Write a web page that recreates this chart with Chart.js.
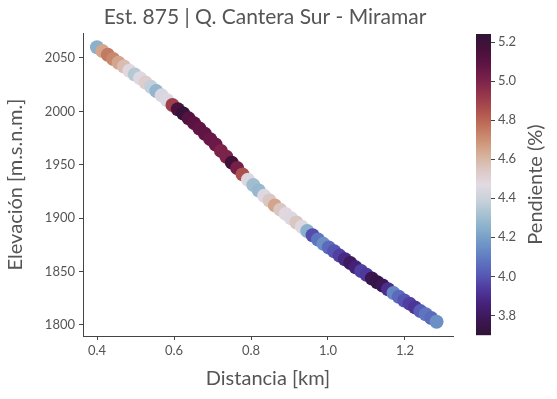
<!DOCTYPE html>
<html>
<head>
<meta charset="utf-8">
<script src="https://cdn.jsdelivr.net/npm/chart.js@4"></script>
<style>
html,body{margin:0;padding:0;background:#fff;}
#wrap{width:557px;height:399px;position:relative;}
</style>
</head>
<body>
<div id="wrap"><canvas id="c" width="557" height="399"></canvas></div>
<script>
// ---- data ----
const titleText = "Est. 875 | Q. Cantera Sur - Miramar";
const xLabel = "Distancia [km]";
const yLabel = "Elevación [m.s.n.m.]";
const cbarLabel = "Pendiente (%)";

const distanceKm = [0.400,0.414,0.428,0.442,0.456,0.470,0.484,0.498,0.512,0.526,0.540,0.554,0.568,0.582,0.596,0.610,0.624,0.638,0.652,0.666,0.680,0.694,0.708,0.722,0.736,0.750,0.764,0.778,0.792,0.806,0.820,0.834,0.848,0.862,0.876,0.890,0.904,0.918,0.932,0.946,0.960,0.974,0.988,1.002,1.016,1.030,1.044,1.058,1.072,1.086,1.100,1.114,1.128,1.142,1.156,1.170,1.184,1.198,1.212,1.226,1.240,1.254,1.268,1.282];
const elevation = [2060,2056.5,2053,2049,2045.5,2042,2038,2034.5,2031,2027,2023,2019,2015,2010.5,2006,2002,1998,1993.5,1989,1984,1979,1974,1969,1963,1957.5,1952,1947,1941,1936,1931,1926,1921,1916.5,1912,1908,1904,1900,1896,1892,1888,1884,1880,1876,1872.5,1869,1865,1861.5,1858,1854,1850.5,1847,1843.5,1840,1837,1833.5,1830,1826.5,1823,1820,1816.5,1813,1810,1806.5,1803];
const slopePct = [4.25,4.65,4.75,4.72,4.65,4.58,4.48,4.35,4.46,4.52,4.38,4.27,4.44,4.45,4.90,5.15,5.22,5.12,5.10,5.08,5.08,5.06,5.05,5.00,5.00,5.18,5.02,4.85,4.45,4.30,4.28,4.45,4.55,4.65,4.55,4.48,4.45,4.55,4.45,4.25,3.98,4.08,4.15,4.05,4.00,3.95,3.88,3.80,3.85,3.95,3.93,3.76,3.74,3.78,3.90,4.12,4.05,4.00,3.95,3.92,4.02,4.08,4.05,4.15];

const xTicks = [0.4,0.6,0.8,1.0,1.2];
const yTicks = [1800,1850,1900,1950,2000,2050];
const cbarTicks = [3.8,4.0,4.2,4.4,4.6,4.8,5.0,5.2];
const cbarMin = 3.70, cbarMax = 5.24;

// ---- colormap (twilight_shifted approximation) ----
const cmapStops = [
  [0.00,[48,20,55]],[0.05,[59,23,84]],[0.10,[69,33,120]],[0.15,[78,56,155]],
  [0.20,[87,89,181]],[0.25,[94,120,193]],[0.30,[110,148,199]],[0.35,[134,173,202]],
  [0.40,[166,194,209]],[0.45,[201,210,219]],[0.50,[226,217,226]],[0.55,[219,200,195]],
  [0.60,[214,175,152]],[0.65,[203,144,115]],[0.70,[191,110,89]],[0.75,[171,79,77]],
  [0.80,[148,53,75]],[0.85,[121,33,74]],[0.90,[94,20,69]],[0.95,[70,17,58]],[1.00,[48,20,55]]
];
function cmap(t){
  t=Math.max(0,Math.min(1,t));
  for(let i=1;i<cmapStops.length;i++){
    if(t<=cmapStops[i][0]){
      const a=cmapStops[i-1],b=cmapStops[i];
      const f=(t-a[0])/(b[0]-a[0]);
      const c=a[1].map((v,k)=>Math.round(v+(b[1][k]-v)*f));
      return `rgb(${c[0]},${c[1]},${c[2]})`;
    }
  }
  return 'rgb(48,20,55)';
}
const pointColors = slopePct.map(v=>cmap((v-cbarMin)/(cbarMax-cbarMin)));

const FONT = "Lato, 'Open Sans', sans-serif";
const TXT = '#555555';
const AX = '#444';

const area = {left:83,right:453,top:33,bottom:336};
const cbar = {x:476,w:15,top:34,bottom:335};
const padL = 4, padB = 8;

const extras = {
  id:'extras',
  afterDraw(chart){
    const ctx=chart.ctx;
    ctx.save();
    // title
    ctx.fillStyle=TXT;
    ctx.font=`21px ${FONT}`;
    ctx.textAlign='center';ctx.textBaseline='middle';
    ctx.fillText(titleText,265,17);
    // colorbar gradient
    const h=cbar.bottom-cbar.top;
    for(let i=0;i<h;i++){
      const t=1-(i+0.5)/h;
      ctx.fillStyle=cmap(t);
      ctx.fillRect(cbar.x,cbar.top+i,cbar.w,1.2);
    }
    // colorbar ticks
    ctx.strokeStyle=AX;ctx.lineWidth=1;
    ctx.fillStyle=TXT;ctx.font=`13px ${FONT}`;
    ctx.textAlign='left';ctx.textBaseline='middle';
    cbarTicks.forEach(v=>{
      const y=cbar.bottom-(v-cbarMin)/(cbarMax-cbarMin)*h;
      ctx.beginPath();ctx.moveTo(cbar.x+cbar.w,Math.round(y)+0.5);ctx.lineTo(cbar.x+cbar.w+4,Math.round(y)+0.5);ctx.stroke();
      ctx.fillText(v.toFixed(1),cbar.x+cbar.w+7,y);
    });
    // colorbar label
    ctx.save();
    ctx.translate(536,(cbar.top+cbar.bottom)/2);
    ctx.rotate(-Math.PI/2);
    ctx.font=`20px ${FONT}`;ctx.textAlign='center';ctx.textBaseline='middle';
    ctx.fillText(cbarLabel,0,0);
    ctx.restore();
    ctx.restore();
  }
};

new Chart(document.getElementById('c'),{
  type:'scatter',
  data:{datasets:[{
    data:distanceKm.map((x,i)=>({x:x,y:elevation[i]})),
    pointRadius:7,pointHoverRadius:7,
    pointBackgroundColor:pointColors,
    pointBorderWidth:0,
    borderWidth:0
  }]},
  options:{
    responsive:false,animation:false,
    layout:{padding:{left:padL,right:557-area.right,top:area.top,bottom:padB}},
    plugins:{legend:{display:false},tooltip:{enabled:false},title:{display:false}},
    scales:{
      x:{
        type:'linear',min:0.3636,max:1.3247,
        afterBuildTicks(s){s.ticks=xTicks.map(v=>({value:v}));},
        afterFit(s){s.height=399-padB-area.bottom;},
        grid:{drawOnChartArea:false,drawTicks:true,tickLength:4,color:AX},
        border:{display:true,color:AX,width:1},
        ticks:{color:TXT,font:{family:FONT,size:13},padding:3,callback:v=>v.toFixed(1),maxRotation:0},
        title:{display:true,text:xLabel,color:TXT,font:{family:FONT,size:20},padding:{top:0,bottom:0}}
      },
      y:{
        type:'linear',min:1789.7,max:2073.4,
        afterBuildTicks(s){s.ticks=yTicks.map(v=>({value:v}));},
        afterFit(s){s.width=area.left-padL;},
        grid:{drawOnChartArea:false,drawTicks:true,tickLength:4,color:AX},
        border:{display:true,color:AX,width:1},
        ticks:{color:TXT,font:{family:FONT,size:13},padding:4,callback:v=>String(v)},
        title:{display:true,text:yLabel,color:TXT,font:{family:FONT,size:20},padding:{top:0,bottom:4}}
      }
    }
  },
  plugins:[extras]
});
</script>
</body>
</html>
